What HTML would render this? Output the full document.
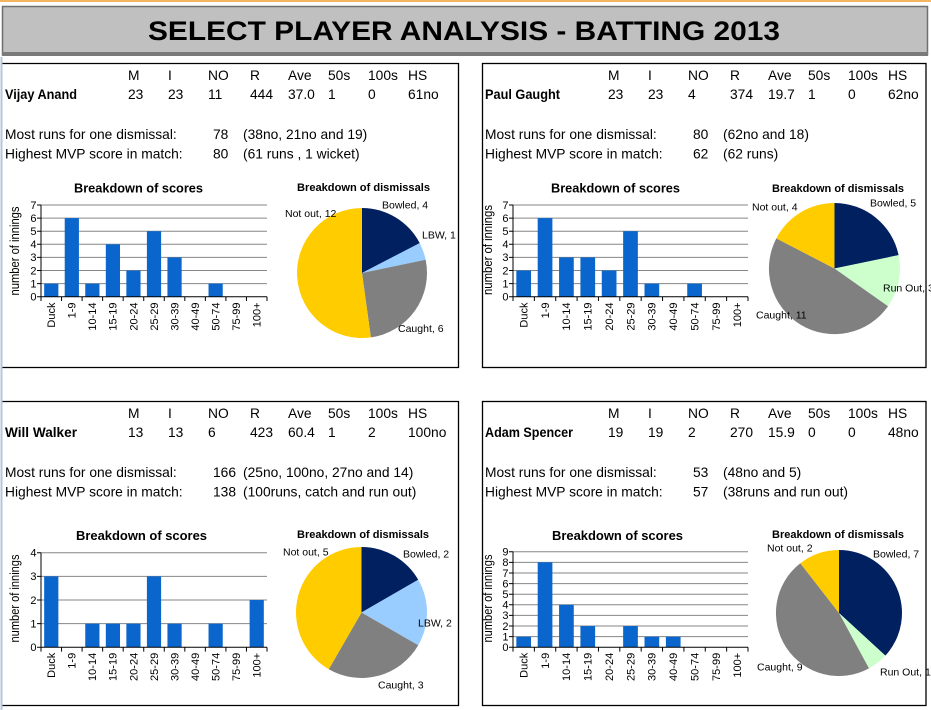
<!DOCTYPE html>
<html><head><meta charset="utf-8"><style>
html,body{margin:0;padding:0;background:#fff;}
svg{display:block;}
.t{font-family:"Liberation Sans",Arial,sans-serif;font-size:13.8px;fill:#000;}
.b{font-weight:bold;}
.ax{font-family:"Liberation Sans",Arial,sans-serif;font-size:11px;fill:#000;}
.xl{font-family:"Liberation Sans",Arial,sans-serif;font-size:11px;fill:#000;}
.yt{font-family:"Liberation Sans",Arial,sans-serif;font-size:13px;fill:#000;}
.ct{font-family:"Liberation Sans",Arial,sans-serif;font-size:12.7px;font-weight:bold;fill:#000;}
.pt{font-family:"Liberation Sans",Arial,sans-serif;font-size:11px;font-weight:bold;fill:#000;}
.pl{font-family:"Liberation Sans",Arial,sans-serif;font-size:10.5px;fill:#000;}
</style></head><body>
<svg width="931" height="710" viewBox="0 0 931 710" xmlns="http://www.w3.org/2000/svg">
<rect width="931" height="710" fill="#fff"/>
<rect x="0" y="0" width="931" height="2" fill="#f2b661"/>
<!-- title bar -->
<rect x="2.5" y="6.5" width="925" height="48" fill="#c0c0c0" stroke="#6f6f6f" stroke-width="1.5"/>
<rect x="2" y="52" width="926" height="4" fill="#7a7a7a"/>
<text x="464" y="40" text-anchor="middle" font-family="Liberation Sans, Arial, sans-serif" font-size="27" font-weight="bold" textLength="632" lengthAdjust="spacingAndGlyphs">SELECT PLAYER ANALYSIS - BATTING 2013</text>

<!-- panels -->
<g fill="none" stroke="#000" stroke-width="1.3">
<path d="M2 63.5H458.5V367.5H2"/>
<rect x="482.5" y="63.5" width="443.5" height="304"/>
<path d="M2 401.5H458.5V705.5H2"/>
<rect x="482.5" y="401.5" width="443.5" height="304"/>
</g>
<rect x="0.5" y="57" width="2" height="653" fill="#b4c6de"/>

<!-- TOP LEFT PANEL TEXT -->
<g class="t">
<text x="128" y="80">M</text><text x="168" y="80">I</text><text x="208" y="80">NO</text><text x="250" y="80">R</text><text x="288" y="80">Ave</text><text x="328" y="80">50s</text><text x="368" y="80">100s</text><text x="408" y="80">HS</text>
<text x="5" y="99" class="b" textLength="72" lengthAdjust="spacingAndGlyphs">Vijay Anand</text>
<text x="128" y="99">23</text><text x="168" y="99">23</text><text x="208" y="99">11</text><text x="250" y="99">444</text><text x="288" y="99">37.0</text><text x="328" y="99">1</text><text x="368" y="99">0</text><text x="408" y="99">61no</text>
<text x="5" y="139">Most runs for one dismissal:</text><text x="213" y="139">78</text><text x="243" y="139">(38no, 21no and 19)</text>
<text x="5" y="158.5">Highest MVP score in match:</text><text x="213" y="158.5">80</text><text x="243" y="158.5">(61 runs , 1 wicket)</text>
</g>
<!-- TOP RIGHT PANEL TEXT -->
<g class="t">
<text x="608" y="80">M</text><text x="648" y="80">I</text><text x="688" y="80">NO</text><text x="730" y="80">R</text><text x="768" y="80">Ave</text><text x="808" y="80">50s</text><text x="848" y="80">100s</text><text x="888" y="80">HS</text>
<text x="485" y="99" class="b" textLength="75" lengthAdjust="spacingAndGlyphs">Paul Gaught</text>
<text x="608" y="99">23</text><text x="648" y="99">23</text><text x="688" y="99">4</text><text x="730" y="99">374</text><text x="768" y="99">19.7</text><text x="808" y="99">1</text><text x="848" y="99">0</text><text x="888" y="99">62no</text>
<text x="485" y="139">Most runs for one dismissal:</text><text x="693" y="139">80</text><text x="723" y="139">(62no and 18)</text>
<text x="485" y="158.5">Highest MVP score in match:</text><text x="693" y="158.5">62</text><text x="723" y="158.5">(62 runs)</text>
</g>
<!-- BOTTOM LEFT PANEL TEXT -->
<g class="t">
<text x="128" y="418">M</text><text x="168" y="418">I</text><text x="208" y="418">NO</text><text x="250" y="418">R</text><text x="288" y="418">Ave</text><text x="328" y="418">50s</text><text x="368" y="418">100s</text><text x="408" y="418">HS</text>
<text x="5" y="437" class="b" textLength="72" lengthAdjust="spacingAndGlyphs">Will Walker</text>
<text x="128" y="437">13</text><text x="168" y="437">13</text><text x="208" y="437">6</text><text x="250" y="437">423</text><text x="288" y="437">60.4</text><text x="328" y="437">1</text><text x="368" y="437">2</text><text x="408" y="437">100no</text>
<text x="5" y="477">Most runs for one dismissal:</text><text x="213" y="477">166</text><text x="243" y="477">(25no, 100no, 27no and 14)</text>
<text x="5" y="496.5">Highest MVP score in match:</text><text x="213" y="496.5">138</text><text x="243" y="496.5">(100runs, catch and run out)</text>
</g>
<!-- BOTTOM RIGHT PANEL TEXT -->
<g class="t">
<text x="608" y="418">M</text><text x="648" y="418">I</text><text x="688" y="418">NO</text><text x="730" y="418">R</text><text x="768" y="418">Ave</text><text x="808" y="418">50s</text><text x="848" y="418">100s</text><text x="888" y="418">HS</text>
<text x="485" y="437" class="b" textLength="88" lengthAdjust="spacingAndGlyphs">Adam Spencer</text>
<text x="608" y="437">19</text><text x="648" y="437">19</text><text x="688" y="437">2</text><text x="730" y="437">270</text><text x="768" y="437">15.9</text><text x="808" y="437">0</text><text x="848" y="437">0</text><text x="888" y="437">48no</text>
<text x="485" y="477">Most runs for one dismissal:</text><text x="693" y="477">53</text><text x="723" y="477">(48no and 5)</text>
<text x="485" y="496.5">Highest MVP score in match:</text><text x="693" y="496.5">57</text><text x="723" y="496.5">(38runs and run out)</text>
</g>

<!-- ================= BAR CHART TL ================= -->
<text class="ct" x="138.5" y="192.5" text-anchor="middle" textLength="129" lengthAdjust="spacingAndGlyphs">Breakdown of scores</text>
<path d="M41 205H267M41 218.1H267M41 231.2H267M41 244.3H267M41 257.4H267M41 270.5H267M41 283.6H267" stroke="#868686" stroke-width="1" fill="none"/>
<g fill="#0a66cc">
<rect x="44.17" y="283.6" width="14.2" height="13.1"/>
<rect x="64.72" y="218.1" width="14.2" height="78.6"/>
<rect x="85.26" y="283.6" width="14.2" height="13.1"/>
<rect x="105.81" y="244.3" width="14.2" height="52.4"/>
<rect x="126.35" y="270.5" width="14.2" height="26.2"/>
<rect x="146.90" y="231.2" width="14.2" height="65.5"/>
<rect x="167.44" y="257.4" width="14.2" height="39.3"/>
<rect x="208.53" y="283.6" width="14.2" height="13.1"/>
</g>
<path d="M41 205V296.7H267M37 205H41M37 218.1H41M37 231.2H41M37 244.3H41M37 257.4H41M37 270.5H41M37 283.6H41M37 296.7H41M41 296.7V301M61.55 296.7V301M82.09 296.7V301M102.64 296.7V301M123.18 296.7V301M143.73 296.7V301M164.27 296.7V301M184.82 296.7V301M205.36 296.7V301M225.91 296.7V301M246.45 296.7V301M267 296.7V301" stroke="#000" stroke-width="1" fill="none"/>
<g class="ax" text-anchor="end">
<text x="36.5" y="300.5">0</text><text x="36.5" y="287.4">1</text><text x="36.5" y="274.3">2</text><text x="36.5" y="261.2">3</text><text x="36.5" y="248.1">4</text><text x="36.5" y="235">5</text><text x="36.5" y="221.9">6</text><text x="36.5" y="208.8">7</text>
</g>
<g class="xl" text-anchor="end">
<text transform="translate(55.1,302.5) rotate(-90)">Duck</text>
<text transform="translate(75.6,302.5) rotate(-90)">1-9</text>
<text transform="translate(96.2,302.5) rotate(-90)">10-14</text>
<text transform="translate(116.7,302.5) rotate(-90)">15-19</text>
<text transform="translate(137.3,302.5) rotate(-90)">20-24</text>
<text transform="translate(157.8,302.5) rotate(-90)">25-29</text>
<text transform="translate(178.3,302.5) rotate(-90)">30-39</text>
<text transform="translate(198.9,302.5) rotate(-90)">40-49</text>
<text transform="translate(219.4,302.5) rotate(-90)">50-74</text>
<text transform="translate(240.0,302.5) rotate(-90)">75-99</text>
<text transform="translate(260.5,302.5) rotate(-90)">100+</text>
</g>
<text class="yt" transform="translate(19,251) rotate(-90)" text-anchor="middle" textLength="89" lengthAdjust="spacingAndGlyphs">number of innings</text>

<!-- ================= BAR CHART TR ================= -->
<text class="ct" x="615.5" y="192.5" text-anchor="middle" textLength="129" lengthAdjust="spacingAndGlyphs">Breakdown of scores</text>
<path d="M513 205H748M513 218.1H748M513 231.2H748M513 244.3H748M513 257.4H748M513 270.5H748M513 283.6H748" stroke="#868686" stroke-width="1" fill="none"/>
<g fill="#0a66cc">
<rect x="516.33" y="270.5" width="14.7" height="26.2"/>
<rect x="537.69" y="218.1" width="14.7" height="78.6"/>
<rect x="559.06" y="257.4" width="14.7" height="39.3"/>
<rect x="580.42" y="257.4" width="14.7" height="39.3"/>
<rect x="601.78" y="270.5" width="14.7" height="26.2"/>
<rect x="623.15" y="231.2" width="14.7" height="65.5"/>
<rect x="644.51" y="283.6" width="14.7" height="13.1"/>
<rect x="687.24" y="283.6" width="14.7" height="13.1"/>
</g>
<path d="M513 205V296.7H748M509 205H513M509 218.1H513M509 231.2H513M509 244.3H513M509 257.4H513M509 270.5H513M509 283.6H513M509 296.7H513M513 296.7V301M534.36 296.7V301M555.73 296.7V301M577.09 296.7V301M598.45 296.7V301M619.82 296.7V301M641.18 296.7V301M662.55 296.7V301M683.91 296.7V301M705.27 296.7V301M726.64 296.7V301M748 296.7V301" stroke="#000" stroke-width="1" fill="none"/>
<g class="ax" text-anchor="end">
<text x="508.5" y="300.5">0</text><text x="508.5" y="287.4">1</text><text x="508.5" y="274.3">2</text><text x="508.5" y="261.2">3</text><text x="508.5" y="248.1">4</text><text x="508.5" y="235">5</text><text x="508.5" y="221.9">6</text><text x="508.5" y="208.8">7</text>
</g>
<g class="xl" text-anchor="end">
<text transform="translate(527.5,302.5) rotate(-90)">Duck</text>
<text transform="translate(548.9,302.5) rotate(-90)">1-9</text>
<text transform="translate(570.2,302.5) rotate(-90)">10-14</text>
<text transform="translate(591.6,302.5) rotate(-90)">15-19</text>
<text transform="translate(612.9,302.5) rotate(-90)">20-24</text>
<text transform="translate(634.3,302.5) rotate(-90)">25-29</text>
<text transform="translate(655.7,302.5) rotate(-90)">30-39</text>
<text transform="translate(677.0,302.5) rotate(-90)">40-49</text>
<text transform="translate(698.4,302.5) rotate(-90)">50-74</text>
<text transform="translate(719.8,302.5) rotate(-90)">75-99</text>
<text transform="translate(741.1,302.5) rotate(-90)">100+</text>
</g>
<text class="yt" transform="translate(492,250) rotate(-90)" text-anchor="middle" textLength="90" lengthAdjust="spacingAndGlyphs">number of innings</text>

<!-- ================= BAR CHART BL ================= -->
<text class="ct" x="141.5" y="540" text-anchor="middle" textLength="131" lengthAdjust="spacingAndGlyphs">Breakdown  of scores</text>
<path d="M41 552.7H267M41 576.35H267M41 600H267M41 623.65H267" stroke="#868686" stroke-width="1" fill="none"/>
<g fill="#0a66cc">
<rect x="44.17" y="576.35" width="14.2" height="70.95"/>
<rect x="85.26" y="623.65" width="14.2" height="23.65"/>
<rect x="105.81" y="623.65" width="14.2" height="23.65"/>
<rect x="126.35" y="623.65" width="14.2" height="23.65"/>
<rect x="146.90" y="576.35" width="14.2" height="70.95"/>
<rect x="167.44" y="623.65" width="14.2" height="23.65"/>
<rect x="208.53" y="623.65" width="14.2" height="23.65"/>
<rect x="249.62" y="600" width="14.2" height="47.3"/>
</g>
<path d="M41 552.7V647.3H267M37 552.7H41M37 576.35H41M37 600H41M37 623.65H41M37 647.3H41M41 647.3V651.6M61.55 647.3V651.6M82.09 647.3V651.6M102.64 647.3V651.6M123.18 647.3V651.6M143.73 647.3V651.6M164.27 647.3V651.6M184.82 647.3V651.6M205.36 647.3V651.6M225.91 647.3V651.6M246.45 647.3V651.6M267 647.3V651.6" stroke="#000" stroke-width="1" fill="none"/>
<g class="ax" text-anchor="end">
<text x="36.5" y="651.1">0</text><text x="36.5" y="627.5">1</text><text x="36.5" y="603.8">2</text><text x="36.5" y="580.2">3</text><text x="36.5" y="556.5">4</text>
</g>
<g class="xl" text-anchor="end">
<text transform="translate(55.1,652.8) rotate(-90)">Duck</text>
<text transform="translate(75.6,652.8) rotate(-90)">1-9</text>
<text transform="translate(96.2,652.8) rotate(-90)">10-14</text>
<text transform="translate(116.7,652.8) rotate(-90)">15-19</text>
<text transform="translate(137.3,652.8) rotate(-90)">20-24</text>
<text transform="translate(157.8,652.8) rotate(-90)">25-29</text>
<text transform="translate(178.3,652.8) rotate(-90)">30-39</text>
<text transform="translate(198.9,652.8) rotate(-90)">40-49</text>
<text transform="translate(219.4,652.8) rotate(-90)">50-74</text>
<text transform="translate(240.0,652.8) rotate(-90)">75-99</text>
<text transform="translate(260.5,652.8) rotate(-90)">100+</text>
</g>
<text class="yt" transform="translate(19,598.5) rotate(-90)" text-anchor="middle" textLength="88" lengthAdjust="spacingAndGlyphs">number of innings</text>

<!-- ================= BAR CHART BR ================= -->
<text class="ct" x="617.5" y="540" text-anchor="middle" textLength="131" lengthAdjust="spacingAndGlyphs">Breakdown  of scores</text>
<path d="M513 551.7H748M513 562.32H748M513 572.95H748M513 583.57H748M513 594.19H748M513 604.81H748M513 615.43H748M513 626.06H748M513 636.68H748" stroke="#868686" stroke-width="1" fill="none"/>
<g fill="#0a66cc">
<rect x="516.33" y="636.68" width="14.7" height="10.62"/>
<rect x="537.69" y="562.32" width="14.7" height="84.98"/>
<rect x="559.06" y="604.81" width="14.7" height="42.49"/>
<rect x="580.42" y="626.06" width="14.7" height="21.24"/>
<rect x="623.15" y="626.06" width="14.7" height="21.24"/>
<rect x="644.51" y="636.68" width="14.7" height="10.62"/>
<rect x="665.88" y="636.68" width="14.7" height="10.62"/>
</g>
<path d="M513 551.7V647.3H748M509 551.7H513M509 562.32H513M509 572.95H513M509 583.57H513M509 594.19H513M509 604.81H513M509 615.43H513M509 626.06H513M509 636.68H513M509 647.3H513M513 647.3V651.6M534.36 647.3V651.6M555.73 647.3V651.6M577.09 647.3V651.6M598.45 647.3V651.6M619.82 647.3V651.6M641.18 647.3V651.6M662.55 647.3V651.6M683.91 647.3V651.6M705.27 647.3V651.6M726.64 647.3V651.6M748 647.3V651.6" stroke="#000" stroke-width="1" fill="none"/>
<g class="ax" text-anchor="end">
<text x="508.5" y="651.1">0</text><text x="508.5" y="640.5">1</text><text x="508.5" y="629.9">2</text><text x="508.5" y="619.2">3</text><text x="508.5" y="608.6">4</text><text x="508.5" y="598">5</text><text x="508.5" y="587.4">6</text><text x="508.5" y="576.8">7</text><text x="508.5" y="566.1">8</text><text x="508.5" y="555.5">9</text>
</g>
<g class="xl" text-anchor="end">
<text transform="translate(527.5,652.8) rotate(-90)">Duck</text>
<text transform="translate(548.9,652.8) rotate(-90)">1-9</text>
<text transform="translate(570.2,652.8) rotate(-90)">10-14</text>
<text transform="translate(591.6,652.8) rotate(-90)">15-19</text>
<text transform="translate(612.9,652.8) rotate(-90)">20-24</text>
<text transform="translate(634.3,652.8) rotate(-90)">25-29</text>
<text transform="translate(655.7,652.8) rotate(-90)">30-39</text>
<text transform="translate(677.0,652.8) rotate(-90)">40-49</text>
<text transform="translate(698.4,652.8) rotate(-90)">50-74</text>
<text transform="translate(719.8,652.8) rotate(-90)">75-99</text>
<text transform="translate(741.1,652.8) rotate(-90)">100+</text>
</g>
<text class="yt" transform="translate(492,598.5) rotate(-90)" text-anchor="middle" textLength="88" lengthAdjust="spacingAndGlyphs">number of innings</text>

<!-- ================= PIE TL ================= -->
<text class="pt" x="363.5" y="191" text-anchor="middle" textLength="133" lengthAdjust="spacingAndGlyphs">Breakdown of dismissals</text>
<path d="M362 273L362 208A65 65 0 0 1 419.72 243.10Z" fill="#002060"/>
<path d="M362 273L419.72 243.10A65 65 0 0 1 425.64 259.77Z" fill="#99ccff"/>
<path d="M362 273L425.64 259.77A65 65 0 0 1 370.85 337.40Z" fill="#808080"/>
<path d="M362 273L370.85 337.40A65 65 0 1 1 362 208Z" fill="#ffcc00"/>
<g class="pl">
<text x="382" y="208.7">Bowled, 4</text>
<text x="422" y="238.7">LBW, 1</text>
<text x="398" y="332">Caught, 6</text>
<text x="285" y="217">Not out, 12</text>
</g>

<!-- ================= PIE TR ================= -->
<text class="pt" x="838" y="192" text-anchor="middle" textLength="132" lengthAdjust="spacingAndGlyphs">Breakdown of dismissals</text>
<path d="M834.5 268.5L834.5 203A65.5 65.5 0 0 1 898.63 255.17Z" fill="#002060"/>
<path d="M834.5 268.5L898.63 255.17A65.5 65.5 0 0 1 888.02 306.27Z" fill="#ccffcc"/>
<path d="M834.5 268.5L888.02 306.27A65.5 65.5 0 0 1 776.33 238.37Z" fill="#808080"/>
<path d="M834.5 268.5L776.33 238.37A65.5 65.5 0 0 1 834.5 203Z" fill="#ffcc00"/>
<g class="pl">
<text x="870" y="206.7">Bowled, 5</text>
<text x="883" y="291.7">Run Out, 3</text>
<text x="756" y="318.7">Caught, 11</text>
<text x="752" y="210.7">Not out, 4</text>
</g>

<!-- ================= PIE BL ================= -->
<text class="pt" x="363" y="538" text-anchor="middle" textLength="132" lengthAdjust="spacingAndGlyphs">Breakdown of dismissals</text>
<path d="M361.5 612.5L361.5 547A65.5 65.5 0 0 1 418.22 579.75Z" fill="#002060"/>
<path d="M361.5 612.5L418.22 579.75A65.5 65.5 0 0 1 418.22 645.25Z" fill="#99ccff"/>
<path d="M361.5 612.5L418.22 645.25A65.5 65.5 0 0 1 328.75 669.22Z" fill="#808080"/>
<path d="M361.5 612.5L328.75 669.22A65.5 65.5 0 0 1 361.5 547Z" fill="#ffcc00"/>
<g class="pl">
<text x="403" y="557.7">Bowled, 2</text>
<text x="418" y="626.7">LBW, 2</text>
<text x="378" y="688.7">Caught, 3</text>
<text x="283" y="555.7">Not out, 5</text>
</g>

<!-- ================= PIE BR ================= -->
<text class="pt" x="838" y="538" text-anchor="middle" textLength="132" lengthAdjust="spacingAndGlyphs">Breakdown of dismissals</text>
<path d="M839 613L839 550A63 63 0 0 1 885.35 655.67Z" fill="#002060"/>
<path d="M839 613L885.35 655.67A63 63 0 0 1 869.0 668.41Z" fill="#ccffcc"/>
<path d="M839 613L869.0 668.41A63 63 0 0 1 800.32 563.27Z" fill="#808080"/>
<path d="M839 613L800.32 563.27A63 63 0 0 1 839 550Z" fill="#ffcc00"/>
<g class="pl">
<text x="873" y="557.7">Bowled, 7</text>
<text x="880" y="675.7">Run Out, 1</text>
<text x="757" y="670.7">Caught, 9</text>
<text x="767" y="551.7">Not out, 2</text>
</g>
</svg>
</body></html>
